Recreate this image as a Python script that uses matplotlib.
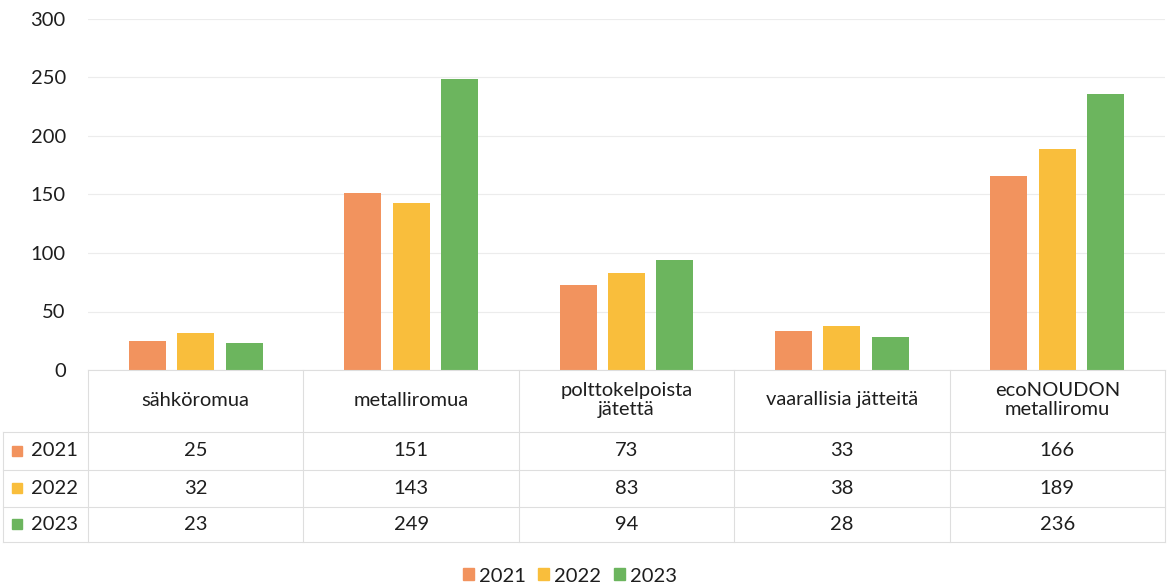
import matplotlib.pyplot as plt
import matplotlib.transforms as mtransforms
from matplotlib.lines import Line2D
from matplotlib.patches import Patch, Rectangle
import numpy as np

plt.rcParams['font.family'] = ['Lato', 'DejaVu Sans']

# Datos
categories = ["sähköromua", "metalliromua", "polttokelpoista\njätettä",
              "vaarallisia jätteitä", "ecoNOUDON\nmetalliromu"]
years = ["2021", "2022", "2023"]
v2021 = [25, 151, 73, 33, 166]
v2022 = [32, 143, 83, 38, 189]
v2023 = [23, 249, 94, 28, 236]
series = [v2021, v2022, v2023]
colors = ["#F2935E", "#F9BE3C", "#6CB55E"]

W, H = 1169, 586
FS = 14.5
TXT = "#1e1e1e"
fig = plt.figure(figsize=(W / 100, H / 100), dpi=100)


def fy(py):
    return 1 - py / H


def fx(px):
    return px / W


ax = fig.add_axes([fx(88), fy(370), fx(1165) - fx(88), fy(19) - fy(370)])
x = np.arange(len(categories))
bw = 0.172
step = 0.225
for i, (vals, c) in enumerate(zip(series, colors)):
    ax.bar(x + (i - 1) * step, vals, width=bw, color=c, zorder=3)

ax.set_xlim(-0.5, len(categories) - 0.5)
ax.set_ylim(0, 300)
ax.set_yticks(range(0, 301, 50))
ax.tick_params(axis="y", length=0, pad=16, labelsize=FS, labelcolor=TXT)
ax.set_xticks([])
ax.grid(axis="y", color="#ececec", linewidth=0.8, zorder=0)
for s in ax.spines.values():
    s.set_visible(False)

# ── Tabla de datos ──────────────────────────────
tr = mtransforms.blended_transform_factory(ax.transData, fig.transFigure)
line_kw = dict(color="#dedede", linewidth=0.8)

row_bot = [432, 470, 507, 542]
fig.add_artist(Line2D([fx(88), fx(1165)], [fy(370), fy(370)], **line_kw))
for yb in row_bot:
    fig.add_artist(Line2D([fx(3), fx(1165)], [fy(yb), fy(yb)], **line_kw))
fig.add_artist(Line2D([fx(3), fx(3)], [fy(432), fy(542)], **line_kw))
for k in range(len(categories) + 1):
    xb = k - 0.5
    fig.add_artist(Line2D([xb, xb], [fy(370), fy(542)], transform=tr, **line_kw))

for j, cat in enumerate(categories):
    fig.text(j, fy(400), cat, transform=tr, ha="center", va="center",
             fontsize=FS, color=TXT, linespacing=1.2)

row_mid = [451, 488, 524]
for i, (vals, c, yr) in enumerate(zip(series, colors, years)):
    ym = row_mid[i]
    fig.add_artist(Rectangle((fx(12), fy(ym + 5)), fx(10), fy(ym - 5) - fy(ym + 5),
                             color=c, transform=fig.transFigure))
    fig.text(fx(31), fy(ym), yr, ha="left", va="center", fontsize=FS, color=TXT)
    for j, v in enumerate(vals):
        fig.text(j, fy(ym), str(v), transform=tr, ha="center", va="center",
                 fontsize=FS, color=TXT)

# Leyenda inferior
handles = [Patch(color=c, label=yr) for c, yr in zip(colors, years)]
fig.legend(handles=handles, loc="center", bbox_to_anchor=(fx(570), fy(576)),
           ncol=3, frameon=False, fontsize=FS, handlelength=0.55, handleheight=0.55,
           handletextpad=0.25, columnspacing=0.6, labelcolor=TXT)

plt.savefig("out.png", dpi=100)
